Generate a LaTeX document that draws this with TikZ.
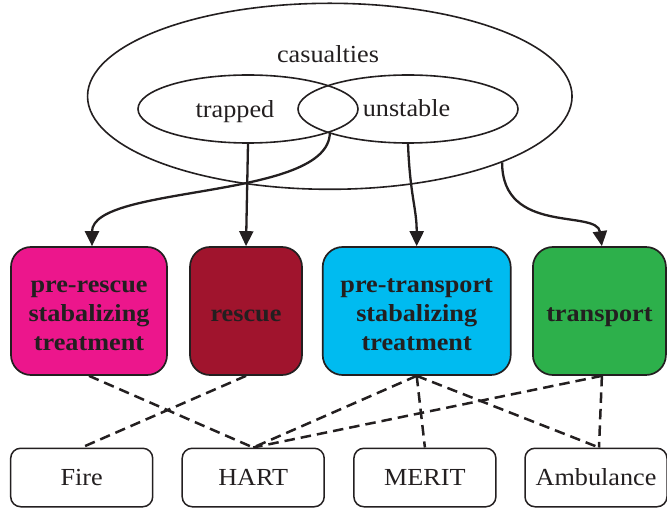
\documentclass[tikz,border=0pt]{standalone}
\usepackage{fontspec}
\setmainfont{Liberation Serif}[FakeStretch=1.07]
\usetikzlibrary{arrows.meta,shapes.geometric}
\definecolor{ink}{RGB}{35,31,32}
\definecolor{cpink}{RGB}{236,22,140}
\definecolor{cred}{RGB}{160,20,45}
\definecolor{ccyan}{RGB}{0,187,240}
\definecolor{cgreen}{RGB}{45,176,75}
\newcommand\stacklines[1]{\begin{tabular}{@{}c@{}}#1\end{tabular}}
\begin{document}
\begin{tikzpicture}[x=1bp,y=-1bp,
  ell/.style={draw=ink,ellipse,line width=1.6bp,inner sep=0pt},
  lbl/.style={inner sep=0pt,text=ink,font=\fontsize{24.5bp}{29.3bp}\selectfont},
  task/.style={draw=ink,line width=1.7bp,rounded corners=20bp,minimum height=128bp,
    inner sep=0pt,text=ink,text height=21.4bp,text depth=0bp,
    font=\fontsize{24.5bp}{29.3bp}\selectfont\bfseries},
  team/.style={draw=ink,line width=1.5bp,rounded corners=10bp,minimum width=142bp,
    minimum height=58.5bp,inner sep=0pt,text=ink,text height=15bp,text depth=0bp,
    font=\fontsize{24.5bp}{29.3bp}\selectfont},
  arr/.style={draw=ink,line width=2.3bp,-{Triangle[length=15bp,width=14bp]}},
  link/.style={draw=ink,line width=2.5bp,dash pattern=on 10.5bp off 6bp},
]
\useasboundingbox (0,0) rectangle (667,510);

% sets
\node[ell,minimum width=484.5bp,minimum height=186bp] (cas) at (329.8,96.3) {};
\node[ell,minimum width=220bp,minimum height=68bp] (trapped) at (248,109) {};
\node[ell,minimum width=220bp,minimum height=68bp] (unstable) at (408,109) {};
\node[lbl,anchor=base] (tcas) at (328,63) {casualties};
\node[lbl,anchor=base] (ttrap) at (235,117.7) {trapped};
\node[lbl,anchor=base] (tunst) at (406.5,116.9) {unstable};

% tasks
\node[task,fill=cpink,minimum width=156bp] (prs) at (89,311) {\stacklines{pre-rescue\\stabalizing\\treatment}};
\node[task,fill=cred,minimum width=112bp] (resc) at (246,311) {rescue};
\node[task,fill=ccyan,minimum width=188bp] (pts) at (416.7,311) {\stacklines{pre-transport\\stabalizing\\treatment}};
\node[task,fill=cgreen,minimum width=133bp] (trn) at (599.4,311) {transport};

% teams
\node[team] (fire) at (81.7,477.5) {Fire};
\node[team] (hart) at (253.2,477.5) {HART};
\node[team] (merit) at (424.9,477.5) {MERIT};
\node[team] (amb) at (596,477.5) {Ambulance};

% arrows
\draw[arr] (trapped.-16.2) .. controls +(0,68) and +(0,-62) .. ([xshift=3bp]prs.north);
\draw[arr] (trapped.south) -- (resc.north);
\draw[arr] (unstable.south) .. controls +(2,52) and +(0,-38) .. (pts.north);
\draw[arr] (cas.-21.3) .. controls +(0,73) and +(-5,-37) .. ([xshift=2.5bp]trn.north);

% links
\draw[link] (prs.south) -- (hart.north);
\draw[link] (resc.south) -- (fire.north);
\draw[link] (pts.south) -- (hart.north);
\draw[link] (pts.south) -- (merit.north);
\draw[link] (pts.south) -- ([xshift=3bp]amb.north);
\draw[link] ([xshift=2.5bp]trn.south) -- (hart.north);
\draw[link] ([xshift=2.5bp]trn.south) -- ([xshift=3bp]amb.north);
\end{tikzpicture}
\end{document}
